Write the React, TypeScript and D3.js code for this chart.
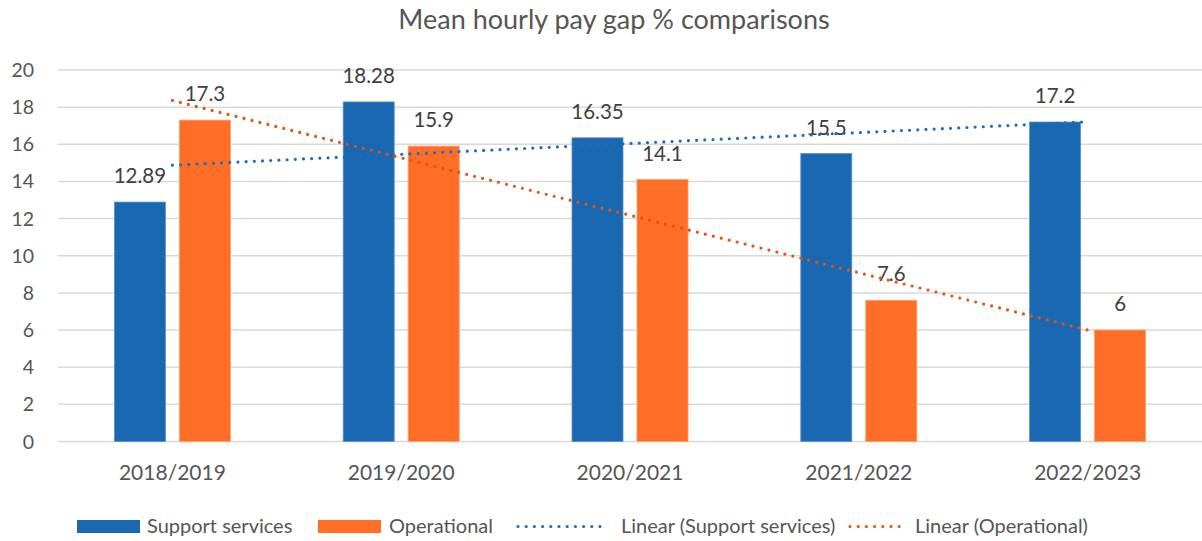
import * as d3 from "d3";

const categories = ["2018/2019", "2019/2020", "2020/2021", "2021/2022", "2022/2023"];
const supportServices = [12.89, 18.28, 16.35, 15.5, 17.2];
const operational = [17.3, 15.9, 14.1, 7.6, 6];
const yTicks = [0, 2, 4, 6, 8, 10, 12, 14, 16, 18, 20];
const seriesNames = ["Support services", "Operational"];

const W = 1202;
const H = 541;
const FONT = "Lato, 'Open Sans', sans-serif";
const BLUE = "#1b68b2";
const ORANGE = "#ff6e27";
const BLUE_TREND = "#1f6bbd";
const ORANGE_TREND = "#e4530e";
const TEXT = "#555";

// least squares line over category index 1..n, as Excel's linear trendline
const linearFit = (ys: number[]) => {
  const xs = ys.map((_, i) => i + 1);
  const mx = d3.mean(xs)!;
  const my = d3.mean(ys)!;
  const slope =
    d3.sum(xs.map((x, i) => (x - mx) * (ys[i] - my))) /
    d3.sum(xs.map((x) => (x - mx) ** 2));
  return xs.map((x) => my + slope * (x - mx));
};

const App = () => {
  const x = d3.scaleBand().domain(categories).range([58, 1202]);
  const barW = 51;
  const gap = 14;
  const y = d3.scaleLinear().domain([0, 20]).range([441.5, 70]);
  const cx = (c: string) => x(c)! + x.bandwidth() / 2;

  const line = d3
    .line<number>()
    .x((_, i) => cx(categories[i]))
    .y((d) => y(d));

  const trends = [
    { vals: linearFit(supportServices), color: BLUE_TREND },
    { vals: linearFit(operational), color: ORANGE_TREND },
  ];

  const series = [
    { vals: supportServices, color: BLUE, stroke: "#5b8fcc", off: -gap / 2 - barW },
    { vals: operational, color: ORANGE, stroke: "#ff9a66", off: gap / 2 },
  ];

  const dots = { strokeWidth: 3.2, strokeDasharray: "0 8.2", strokeLinecap: "round" as const };

  return (
    <svg width={W} height={H} style={{ position: "absolute", left: 0, top: 0 }} fontFamily={FONT}>
      <rect width={W} height={H} fill="#fff" />
      <text x={614} y={29} textAnchor="middle" fontSize={27} fill={TEXT}>
        Mean hourly pay gap % comparisons
      </text>

      {yTicks.map((t) => (
        <g key={t}>
          <line x1={58} x2={1202} y1={y(t)} y2={y(t)} stroke="#d9d9d9" strokeWidth={1.5} />
          <text x={34} y={y(t)} dy="0.36em" textAnchor="end" fontSize={19.5} fill={TEXT}>
            {t}
          </text>
        </g>
      ))}

      {series.map((s, si) =>
        s.vals.map((v, i) => (
          <rect
            key={`${si}-${i}`}
            x={cx(categories[i]) + s.off}
            y={y(v)}
            width={barW}
            height={y(0) - y(v)}
            fill={s.color}
            stroke={s.stroke}
            strokeWidth={0.8}
          />
        ))
      )}

      {series.map((s, si) =>
        s.vals.map((v, i) => (
          <text
            key={`l${si}-${i}`}
            x={cx(categories[i]) + s.off + barW / 2}
            y={y(v) - 19}
            textAnchor="middle"
            fontSize={20.5}
            fill="#404040"
          >
            {v}
          </text>
        ))
      )}

      {trends.map((t, i) => (
        <path key={i} d={line(t.vals)!} fill="none" stroke={t.color} {...dots} />
      ))}

      {categories.map((c) => (
        <text key={c} x={cx(c)} y={480} textAnchor="middle" fontSize={21} fill={TEXT}>
          {c}
        </text>
      ))}

      <g>
        <rect x={77} y={520} width={63} height={13} fill={BLUE} />
        <text x={147} y={533} fontSize={20} fill={TEXT}>{seriesNames[0]}</text>
        <rect x={318} y={520} width={63} height={13} fill={ORANGE} />
        <text x={389} y={533} fontSize={20} fill={TEXT}>{seriesNames[1]}</text>
        <line x1={518} x2={604} y1={526.5} y2={526.5} stroke={BLUE_TREND} {...dots} />
        <text x={621} y={533} fontSize={20} fill={TEXT}>{`Linear (${seriesNames[0]})`}</text>
        <line x1={850} x2={903} y1={526.5} y2={526.5} stroke={ORANGE_TREND} {...dots} />
        <text x={915} y={533} fontSize={20} fill={TEXT}>{`Linear (${seriesNames[1]})`}</text>
      </g>
    </svg>
  );
};

export default App;
